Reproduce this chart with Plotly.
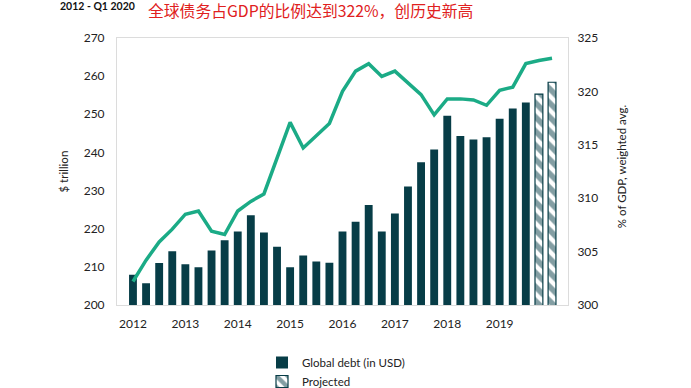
import plotly.graph_objects as go

quarters = list(range(33))
year_ticks = [0, 4, 8, 12, 16, 20, 24, 28]
year_labels = ["2012", "2013", "2014", "2015", "2016", "2017", "2018", "2019"]

debt_actual = [207.9, 205.7, 211.0, 214.1, 210.7, 209.9, 214.3, 217.0, 219.3, 223.5,
               219.0, 215.3, 209.9, 213.0, 211.4, 211.1, 219.3, 221.8, 226.2, 219.3,
               224.0, 231.1, 237.4, 240.8, 249.6, 244.3, 243.4, 244.0, 248.8, 251.5,
               253.1]
debt_projected = [255.3, 258.4]
debt_to_gdp = [302.2, 304.2, 305.9, 307.1, 308.5, 308.8, 306.9, 306.6, 308.8, 309.7,
               310.4, 313.7, 317.1, 314.7, 315.9, 317.0, 320.0, 321.9, 322.6, 321.4,
               321.9, 320.8, 319.7, 317.8, 319.3, 319.3, 319.2, 318.7, 320.1, 320.4,
               322.6, 322.9, 323.1]

DARK = "#073d47"
GREEN = "#1bab86"
FONT = "Lato, 'Open Sans', sans-serif"

fig = go.Figure()
fig.add_trace(go.Bar(
    x=quarters[:len(debt_actual)], y=debt_actual, name="Global debt (in USD)",
    marker=dict(color=DARK, line=dict(width=0)), width=0.6,
))
fig.add_trace(go.Bar(
    x=quarters[len(debt_actual):], y=debt_projected, name="Projected",
    marker=dict(color="white", line=dict(color=DARK, width=1.2),
                pattern=dict(shape="\\", fgcolor=DARK, bgcolor="white", size=10, solidity=0.55)),
    width=0.6,
))
fig.add_trace(go.Scatter(
    x=quarters, y=debt_to_gdp, mode="lines", yaxis="y2", showlegend=False,
    line=dict(color=GREEN, width=3.5),
))

axis_line = dict(showline=True, linecolor="#dcdcdc", linewidth=1, mirror=True)

fig.update_layout(
    width=691, height=388,
    margin=dict(l=117, r=123, t=38, b=83, autoexpand=False),
    paper_bgcolor="white", plot_bgcolor="white",
    barmode="overlay",
    font=dict(family=FONT, size=12, color="#222222"),
    xaxis=dict(range=[-1.22, 33.22], tickvals=year_ticks, ticktext=year_labels,
               showgrid=False, zeroline=False, ticks="outside", ticklen=8,
               tickcolor="rgba(0,0,0,0)", **axis_line),
    yaxis=dict(range=[200, 270], dtick=10, showgrid=False, zeroline=False,
               ticks="outside", ticklen=9, tickcolor="rgba(0,0,0,0)", **axis_line),
    yaxis2=dict(range=[300, 325], dtick=5, overlaying="y", side="right",
                showgrid=False, zeroline=False, showline=False,
                ticks="outside", ticklen=6, tickcolor="rgba(0,0,0,0)"),
    legend=dict(x=(262 - 117) / 451, y=(305 - 348) / 267, xanchor="left", yanchor="top",
                orientation="v", font=dict(size=11.5, color="#222222"),
                tracegroupgap=2, bgcolor="rgba(0,0,0,0)"),
    annotations=[
        dict(text="$ trillion", xref="paper", yref="paper", x=(63 - 117) / 451, y=0.5,
             xanchor="center", yanchor="middle", textangle=-90, showarrow=False,
             font=dict(size=11.5, color="#222222")),
        dict(text="% of GDP, weighted avg.", xref="paper", yref="paper",
             x=(621 - 117) / 451, y=0.52,
             xanchor="center", yanchor="middle", textangle=-90, showarrow=False,
             font=dict(size=11.5, color="#222222")),
        dict(text="<b>2012 - Q1 2020</b>", xref="paper", yref="paper",
             x=(58 - 117) / 451, y=(305 - 6) / 267, xanchor="left", yanchor="middle",
             showarrow=False, font=dict(size=10.5, color="#111111")),
        dict(text="全球债务占GDP的比例达到322%，创历史新高", xref="paper", yref="paper",
             x=(146 - 117) / 451, y=(305 - 11) / 267, xanchor="left", yanchor="middle",
             showarrow=False,
             font=dict(size=15.8, color="#e02020", family="Noto Sans CJK SC")),
    ],
)

fig.write_html("out.html", config={"displayModeBar": False},
               post_script="document.body.style.margin='0';")
